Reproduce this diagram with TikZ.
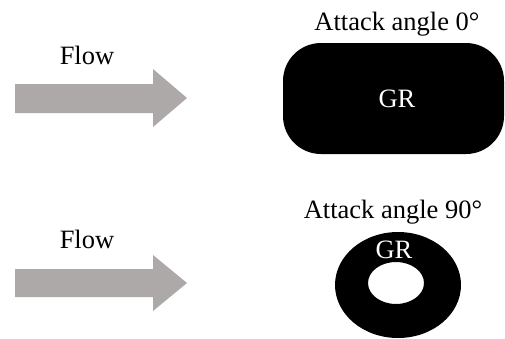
\documentclass[tikz,border=0pt]{standalone}
\usepackage{fontspec}
\setmainfont{Liberation Serif}
\definecolor{flowgray}{RGB}{172,169,168}
\begin{document}
\begin{tikzpicture}[x=1pt,y=-1pt,
  lbl/.style={font=\fontsize{26.5}{30}\selectfont, inner sep=0pt},
  grlbl/.style={lbl, text=white},
  flowarrow/.style={fill=flowgray, draw=none}]
\useasboundingbox (0,0) rectangle (505,338);
% upper case: attack angle 0
\fill[flowarrow] (15,84) -- (153,84) -- (153,69) -- (187,98) -- (153,127) -- (153,113) -- (15,113) -- cycle;
\node[lbl] (flow1) at (87,55) {Flow};
\node[lbl] (title1) at (397,24) {Attack angle 0°};
\fill[black, rounded corners=38pt] (283,43) rectangle (504,154);
\node[grlbl] (gr1) at (397,99) {GR};
% lower case: attack angle 90
\fill[flowarrow] (15,269) -- (153,269) -- (153,255) -- (187,283) -- (153,311) -- (153,297) -- (15,297) -- cycle;
\node[lbl] (flow2) at (87,239) {Flow};
\node[lbl] (title2) at (393,212) {Attack angle 90°};
\fill[black, even odd rule] (398,285) ellipse [x radius=63, y radius=53]
  (396,283) ellipse [x radius=28, y radius=21];
\node[grlbl] (gr2) at (394,250) {GR};
\end{tikzpicture}
\end{document}
